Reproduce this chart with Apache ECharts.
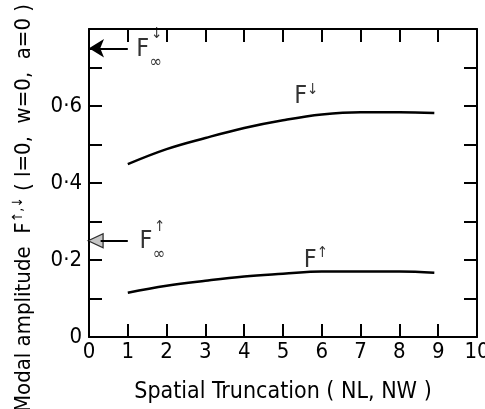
<!DOCTYPE html>
<html>
<head>
<meta charset="utf-8">
<script src="https://cdn.jsdelivr.net/npm/echarts@6/dist/echarts.min.js"></script>
<style>
html,body{margin:0;padding:0;background:#fff;}
#c{width:485px;height:409px;}
</style>
</head>
<body>
<div id="c"></div>
<script>
// ---- data ----
const xTicks = [0,1,2,3,4,5,6,7,8,9,10];
const yTickLabels = ['0', '0·2', '0·4', '0·6'];
const xDown = [1, 2, 3, 4, 5, 6, 7, 8, 8.9];
const fDown = [0.449, 0.488, 0.517, 0.543, 0.563, 0.578, 0.584, 0.584, 0.582];
const xUp = [1, 2, 3, 4, 5, 6, 7, 8, 8.9];
const fUp = [0.115, 0.133, 0.146, 0.157, 0.164, 0.170, 0.170, 0.170, 0.167];
const fInfDown = 0.75;
const fInfUp = 0.25;
const arrowFromX = 1;
const arrowToX = 0;
// curve labels: [x, y, text]
const curveLabels = [[5.6, 0.625, 'F{s|↓}'], [5.85, 0.2, 'F{s|↑}']];
const infLabels = [[1.22, 0.748, '↓'], [1.3, 0.248, '↑']];
const hollowHead = [[0.17, 0.25]];

const FONT = "'DejaVu Sans Condensed', 'Liberation Sans Narrow', 'DejaVu Sans', sans-serif";

const chart = echarts.init(document.getElementById('c'), null, {renderer: 'canvas'});

const toPairs = (xs, ys) => xs.map((x, i) => [x, ys[i]]);

const axisCommon = {
  type: 'value',
  axisLine: {show: true, onZero: false, lineStyle: {color: '#000', width: 2}},
  axisTick: {show: true, inside: true, length: 13, lineStyle: {color: '#000', width: 2}},
  splitLine: {show: false}
};

const option = {
  animation: false,
  backgroundColor: '#fff',
  grid: {left: 89, right: 8, top: 29, bottom: 72, containLabel: false, outerBoundsMode: 'none'},
  xAxis: [
    Object.assign({}, axisCommon, {
      min: 0, max: 10, interval: 1, position: 'bottom',
      axisLabel: {color: '#000', fontSize: 22, fontFamily: FONT, margin: 4,
        formatter: v => xTicks.includes(v) ? String(v) : ''},
      name: 'Spatial Truncation ( NL, NW )',
      nameLocation: 'middle', nameGap: 44,
      nameTextStyle: {color: '#000', fontSize: 23, fontFamily: FONT}
    }),
    Object.assign({}, axisCommon, {
      min: 0, max: 10, interval: 1, position: 'top',
      axisLabel: {show: false}
    })
  ],
  yAxis: [
    Object.assign({}, axisCommon, {
      min: 0, max: 0.8, interval: 0.1, position: 'left',
      axisLabel: {color: '#000', fontSize: 22, fontFamily: FONT, margin: 7,
        formatter: v => {
          const k = Math.round(v * 10);
          if (k % 2 !== 0 || k > 6) return '';
          return yTickLabels[k / 2];
        }},
      name: 'Modal amplitude  F{s|↑,↓} ( l=0,  w=0,  a=0 )',
      nameLocation: 'middle', nameGap: 52,
      nameTextStyle: {color: '#000', fontSize: 22, fontFamily: FONT, padding: [0, 50, 0, 0],
        rich: {s: {fontSize: 14, fontFamily: FONT, color: '#000', verticalAlign: 'top', lineHeight: 26}}}
    }),
    Object.assign({}, axisCommon, {
      min: 0, max: 0.8, interval: 0.1, position: 'right',
      axisLabel: {show: false}
    })
  ],
  series: [
    {
      type: 'line', name: 'Fdown', data: toPairs(xDown, fDown), smooth: 0.4,
      showSymbol: false, lineStyle: {color: '#000', width: 2.5},
      markLine: {
        silent: true, symbol: ['none', 'arrow'], symbolSize: [14, 15],
        lineStyle: {color: '#000', width: 2, type: 'solid'},
        label: {show: false},
        data: [[{coord: [arrowFromX, fInfDown]}, {coord: [arrowToX, fInfDown]}]]
      }
    },
    {
      type: 'line', name: 'Fup', data: toPairs(xUp, fUp), smooth: 0.4,
      showSymbol: false, lineStyle: {color: '#000', width: 2.5},
      markLine: {
        silent: true, symbol: ['none', 'none'],
        lineStyle: {color: '#000', width: 2, type: 'solid'},
        label: {show: false},
        data: [[{coord: [arrowFromX, fInfUp]}, {coord: [arrowToX + 0.3, fInfUp]}]]
      }
    },
    {
      type: 'scatter', silent: true, data: hollowHead,
      symbol: 'triangle', symbolRotate: 90, symbolSize: [14, 15],
      itemStyle: {color: '#b8b8b8', borderColor: '#000', borderWidth: 1.2}
    },
    {
      type: 'scatter', symbolSize: 0, silent: true,
      data: curveLabels.map(d => ({value: [d[0], d[1]], labelText: d[2]})),
      label: {show: true, position: 'inside', color: '#000', fontSize: 25, fontFamily: FONT,
        formatter: p => p.data.labelText,
        rich: {s: {fontSize: 15, fontFamily: FONT, color: '#000', verticalAlign: 'top', lineHeight: 28}}}
    },
    {
      type: 'scatter', symbolSize: 0, silent: true,
      data: infLabels.map(d => ({value: [d[0], d[1]], sup: d[2]})),
      label: {show: true, position: 'right', distance: 0, color: '#000', fontSize: 25, fontFamily: FONT,
        formatter: p => 'F{inf|∞}{sup|' + p.data.sup + '}',
        rich: {
          inf: {fontSize: 17, fontFamily: FONT, color: '#000', verticalAlign: 'bottom', lineHeight: 32, padding: [0, 0, -6, 0]},
          sup: {fontSize: 15, fontFamily: FONT, color: '#000', verticalAlign: 'top', lineHeight: 32, padding: [-6, 0, 0, -11]}
        }}
    }
  ]
};
chart.setOption(option);
</script>
</body>
</html>
